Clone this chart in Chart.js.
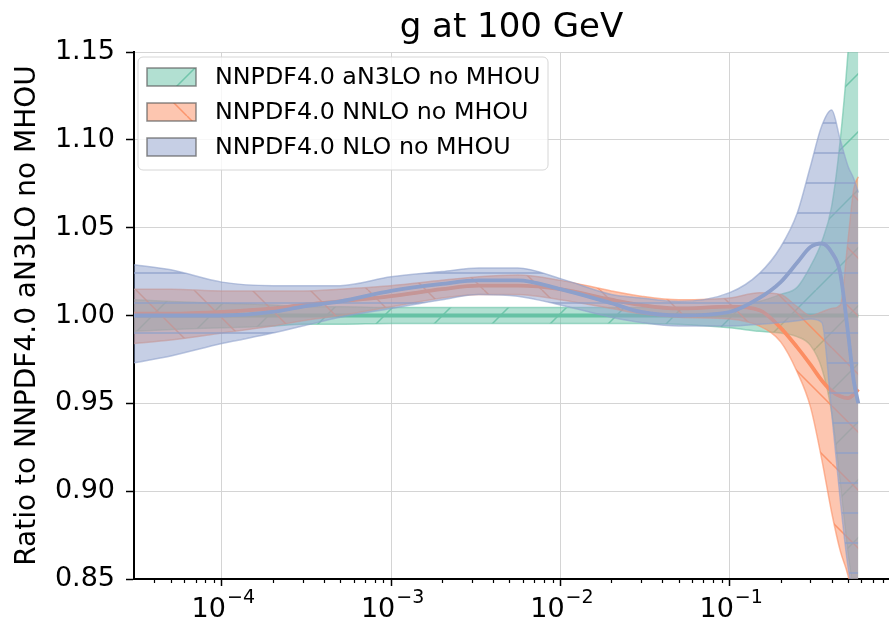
<!DOCTYPE html>
<html>
<head>
<meta charset="utf-8">
<script src="https://cdn.jsdelivr.net/npm/chart.js@4"></script>
<style>
  body { margin: 0; background: #fff; }
  canvas { display: block; }
</style>
</head>
<body>
<canvas id="ratio-chart" width="889" height="625"></canvas>
<script>
// x grid of the ratio plot
const xs = [3e-5, 5e-5, 1e-4, 2e-4, 3e-4, 5e-4, 1e-3, 2e-3, 3.3e-3, 5.6e-3, 1e-2, 2e-2, 3e-2, 5e-2,
            0.1, 0.15, 0.2, 0.25, 0.3, 0.35, 0.4, 0.45, 0.5, 0.54, 0.575];

// aN3LO (reference, ratio = 1)
const n3loMid = [1, 1, 1, 1, 1, 1, 1, 1, 1, 1, 1, 1, 1, 1, 1, 1, 1, 1, 1, 1, 1, 1, 1, 1, 1];
const n3loUp = [1.009, 1.008, 1.007, 1.006, 1.005, 1.005, 1.0045, 1.0045, 1.0045, 1.0045, 1.0045, 1.0045, 1.0045, 1.0045,
                1.005, 1.008, 1.012, 1.016, 1.028, 1.042, 1.062, 1.100, 1.150, 1.200, 1.250];
const n3loLo = [0.991, 0.992, 0.993, 0.994, 0.995, 0.995, 0.9955, 0.9955, 0.9955, 0.9955, 0.9955, 0.9955, 0.9955, 0.995,
                0.993, 0.991, 0.990, 0.988, 0.983, 0.970, 0.945, 0.905, 0.865, 0.840, 0.800];

// NNLO
const nnloMid = [1.001, 1.001, 1.002, 1.004, 1.006, 1.008, 1.011, 1.015, 1.017, 1.017, 1.015, 1.009, 1.006, 1.004,
                 1.005, 1.003, 0.993, 0.982, 0.972, 0.963, 0.957, 0.954, 0.953, 0.955, 0.958];
const nnloUp = [1.015, 1.015, 1.014, 1.014, 1.014, 1.015, 1.017, 1.020, 1.022, 1.023, 1.020, 1.014, 1.011, 1.009,
                1.010, 1.013, 1.012, 1.005, 1.000, 1.002, 1.004, 1.006, 1.043, 1.072, 1.079];
const nnloLo = [0.984, 0.986, 0.990, 0.994, 0.997, 1.000, 1.005, 1.010, 1.012, 1.012, 1.009, 1.004, 1.001, 0.999,
                0.998, 0.994, 0.985, 0.968, 0.948, 0.918, 0.888, 0.866, 0.852, 0.835, 0.820];

// NLO
const nloMid = [1.000, 1.000, 1.000, 1.002, 1.005, 1.008, 1.014, 1.018, 1.020, 1.020, 1.015, 1.007, 1.002, 1.000,
                1.002, 1.010, 1.019, 1.030, 1.039, 1.041, 1.036, 1.024, 0.990, 0.963, 0.950];
const nloUp = [1.029, 1.026, 1.019, 1.017, 1.017, 1.017, 1.022, 1.025, 1.027, 1.027, 1.021, 1.012, 1.010, 1.008,
               1.013, 1.024, 1.039, 1.058, 1.085, 1.108, 1.117, 1.100, 1.085, 1.078, 1.070];
const nloLo = [0.973, 0.977, 0.984, 0.990, 0.994, 0.999, 1.004, 1.009, 1.012, 1.011, 1.006, 0.999, 0.996, 0.994,
               0.994, 0.995, 0.996, 0.997, 0.998, 0.996, 0.945, 0.895, 0.857, 0.840, 0.830];

const seriesLabels = ["NNPDF4.0 aN3LO no MHOU", "NNPDF4.0 NNLO no MHOU", "NNPDF4.0 NLO no MHOU"];
const xTickVals = [1e-4, 1e-3, 1e-2, 1e-1];
const xTickExps = ["\u22124", "\u22123", "\u22122", "\u22121"];
const titleText = "g at 100 GeV";
const yTitle = "Ratio to NNPDF4.0 aN3LO no MHOU";

const FONT = "'DejaVu Sans', sans-serif";
Chart.defaults.font.family = FONT;
Chart.defaults.color = "#000";

const canvas = document.getElementById("ratio-chart");
const ctx = canvas.getContext("2d");

// matplotlib-like hatched fill: semi transparent colour + hatch lines
function makeHatch(rgb, kind, dx, dy) {
  const size = kind === "-" ? 30 : 58;
  const c = document.createElement("canvas");
  c.width = size; c.height = size;
  const g = c.getContext("2d");
  g.fillStyle = `rgba(${rgb},0.5)`;
  g.fillRect(0, 0, size, size);
  g.strokeStyle = `rgba(${rgb},0.85)`;
  g.lineWidth = 1.5;
  g.beginPath();
  if (kind === "/") {
    for (const o of [-size, 0, size]) { g.moveTo(o, size); g.lineTo(o + size, 0); }
  } else if (kind === "\\") {
    for (const o of [-size, 0, size]) { g.moveTo(o, 0); g.lineTo(o + size, size); }
  } else {
    g.moveTo(0, 15); g.lineTo(size, 15);
  }
  g.stroke();
  const p = ctx.createPattern(c, "repeat");
  p.setTransform(new DOMMatrix().translate(dx, dy));
  return p;
}

const GREEN = "102,194,165", ORANGE = "252,141,98", BLUE = "141,160,203";
const hatchG = makeHatch(GREEN, "/", 4, 0);
const hatchO = makeHatch(ORANGE, "\\", 20, 0);
const hatchB = makeHatch(BLUE, "-", 0, -12);
const legendPats = [makeHatch(GREEN, "/", 31, 0), makeHatch(ORANGE, "\\", 13, 0), makeHatch(BLUE, "-", 0, 0)];

const pts = (arr) => arr.map((y, i) => ({ x: xs[i], y: y }));

function bandSets(lo, up, rgb, pattern, order) {
  return [
    { data: pts(lo), borderColor: `rgba(${rgb},0.6)`, borderWidth: 1.5, pointRadius: 0,
      cubicInterpolationMode: "monotone", fill: false, order: order },
    { data: pts(up), borderColor: `rgba(${rgb},0.6)`, borderWidth: 1.5, pointRadius: 0,
      cubicInterpolationMode: "monotone", fill: "-1", backgroundColor: pattern, order: order }
  ];
}
function midSet(mid, rgb, order) {
  return { data: pts(mid), borderColor: `rgb(${rgb})`, borderWidth: 3.8, pointRadius: 0,
           cubicInterpolationMode: "monotone", fill: false, order: order };
}

const datasets = [
  ...bandSets(n3loLo, n3loUp, GREEN, hatchG, 5), midSet(n3loMid, GREEN, 4),
  ...bandSets(nnloLo, nnloUp, ORANGE, hatchO, 3), midSet(nnloMid, ORANGE, 2),
  ...bandSets(nloLo, nloUp, BLUE, hatchB, 1), midSet(nloMid, BLUE, 0)
];

// title, x tick labels (10 with raised exponent), minor x ticks and the framed legend
const decorPlugin = {
  id: "decor",
  afterDraw(chart) {
    const c = chart.ctx;
    const area = chart.chartArea;
    const xScale = chart.scales.x;

    c.save();
    c.fillStyle = "#000";
    c.font = `34px ${FONT}`;
    c.textAlign = "center";
    c.textBaseline = "alphabetic";
    c.fillText(titleText, (area.left + area.right) / 2, 37);

    // x tick labels
    c.textAlign = "left";
    xTickVals.forEach((v, i) => {
      const px = xScale.getPixelForValue(v);
      c.font = `27px ${FONT}`;
      const wBase = c.measureText("10").width;
      c.font = `19px ${FONT}`;
      const wExp = c.measureText(xTickExps[i]).width;
      const x0 = px - (wBase + wExp) / 2 + 1;
      c.font = `27px ${FONT}`;
      c.fillText("10", x0, area.bottom + 38);
      c.font = `19px ${FONT}`;
      c.fillText(xTickExps[i], x0 + wBase + 1, area.bottom + 24);
    });

    // minor ticks
    c.strokeStyle = "#000";
    c.lineWidth = 1.2;
    c.beginPath();
    for (let d = -5; d <= 0; d++) {
      for (let k = 2; k <= 9; k++) {
        const v = k * Math.pow(10, d);
        if (v < xScale.min || v > xScale.max) continue;
        const px = Math.round(xScale.getPixelForValue(v)) + 0.5;
        c.moveTo(px, area.bottom);
        c.lineTo(px, area.bottom + 4);
      }
    }
    c.stroke();

    // legend
    const bx = area.left + 4, by = 57, bw = 410, bh = 113;
    c.beginPath();
    c.roundRect(bx, by, bw, bh, 5);
    c.fillStyle = "rgba(255,255,255,0.8)";
    c.fill();
    c.strokeStyle = "#d6d6d6";
    c.lineWidth = 1;
    c.stroke();

    c.font = `23.8px ${FONT}`;
    c.textAlign = "left";
    c.textBaseline = "middle";
    seriesLabels.forEach((label, i) => {
      const cy = 77 + i * 35;
      c.fillStyle = "#fff";
      c.fillRect(bx + 9, cy - 9, 49, 18);
      c.fillStyle = legendPats[i];
      c.fillRect(bx + 9, cy - 9, 49, 18);
      c.strokeStyle = "rgba(90,90,90,0.7)";
      c.lineWidth = 1.5;
      c.strokeRect(bx + 9, cy - 9, 49, 18);
      c.fillStyle = "#000";
      c.fillText(label, bx + 77, cy + 1);
    });
    c.restore();
  }
};

new Chart(canvas, {
  type: "line",
  data: { datasets: datasets },
  options: {
    responsive: false,
    animation: false,
    layout: { padding: { top: 52, right: 0, left: 0, bottom: 0 } },
    plugins: {
      legend: { display: false },
      title: { display: false },
      tooltip: { enabled: false }
    },
    scales: {
      x: {
        type: "logarithmic",
        min: 3.03e-5,
        max: 0.873,
        afterBuildTicks: (scale) => { scale.ticks = xTickVals.map(v => ({ value: v })); },
        afterFit: (scale) => { scale.height = 46; },
        grid: { color: "#d4d4d4", lineWidth: 1, tickLength: 7, tickColor: "#000", tickWidth: 1.5 },
        border: { display: true, color: "#000", width: 2 },
        ticks: {
          autoSkip: false,
          maxRotation: 0,
          callback: () => ""
        }
      },
      y: {
        min: 0.85,
        max: 1.15,
        afterFit: (scale) => { scale.width = 134; },
        grid: { color: "#d4d4d4", lineWidth: 1, tickLength: 8, tickColor: "#000", tickWidth: 1.5 },
        border: { display: true, color: "#000", width: 2 },
        ticks: {
          stepSize: 0.05,
          padding: 11,
          font: { size: 27 },
          callback: (v) => v.toFixed(2)
        },
        title: {
          display: true,
          text: yTitle,
          font: { size: 28 },
          padding: { top: 11, bottom: 0 }
        }
      }
    }
  },
  plugins: [decorPlugin]
});
</script>
</body>
</html>
